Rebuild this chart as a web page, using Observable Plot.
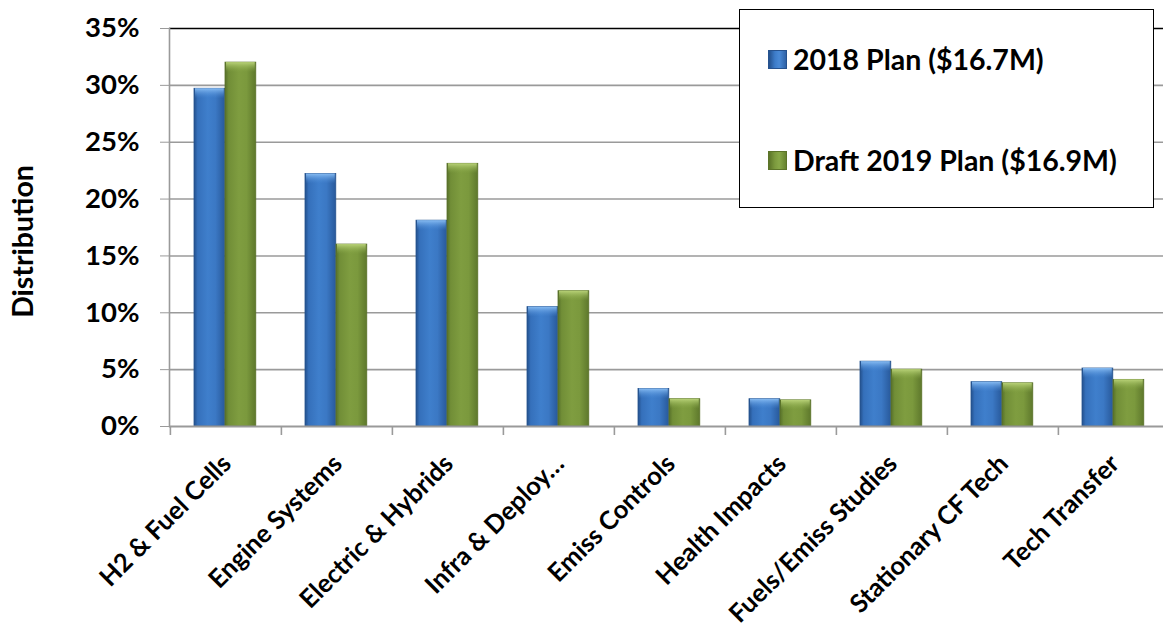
<!DOCTYPE html>
<html>
<head>
<meta charset="utf-8">
<script src="https://cdn.jsdelivr.net/npm/d3@7"></script>
<script src="https://cdn.jsdelivr.net/npm/@observablehq/plot@0.6"></script>
<style>
  html, body { margin: 0; padding: 0; background: #fff; }
  #wrap { position: relative; width: 1163px; height: 632px; overflow: hidden; font-family: Lato, "Open Sans", sans-serif; }
  #legend { position: absolute; left: 739px; top: 9px; width: 415px; height: 199px; box-sizing: border-box;
            border: 1.5px solid #000; background: #fff; }
  .item { position: absolute; left: 28px; display: flex; align-items: center; height: 22px;
          font-weight: bold; font-size: 28.5px; color: #000; white-space: nowrap; }
  .sw { display: inline-block; width: 19px; height: 19px; margin-right: 6px; box-sizing: border-box; }
  .sw.blue { background: linear-gradient(90deg, #23508c 0%, #3d7cc9 35%, #4a8ad6 60%, #2f62a6 100%); border: 1px solid #26528e; }
  .sw.green { background: linear-gradient(90deg, #5b7428 0%, #7c9a3e 35%, #88a848 60%, #66822f 100%); border: 1px solid #5c7429; }
</style>
</head>
<body>
<div id="wrap"></div>
<script>
// ---- data ----
const categories = ["H2 & Fuel Cells", "Engine Systems", "Electric & Hybrids", "Infra & Deploy…",
  "Emiss Controls", "Health Impacts", "Fuels/Emiss Studies", "Stationary CF Tech", "Tech Transfer"];
const plan2018 = [0.297, 0.222, 0.181, 0.105, 0.033, 0.024, 0.057, 0.039, 0.051];
const draft2019 = [0.320, 0.160, 0.231, 0.119, 0.024, 0.023, 0.050, 0.038, 0.041];
const seriesNames = ["2018 Plan ($16.7M)", "Draft 2019 Plan ($16.9M)"];
const yTicks = [0, 0.05, 0.10, 0.15, 0.20, 0.25, 0.30, 0.35];
const gridTicks = [0.05, 0.10, 0.15, 0.20, 0.25, 0.30];
const topTick = [0.35];
const yLabel = "Distribution";

const rows = categories.map((c, i) => ({category: c, a: plan2018[i], b: draft2019[i]}));

const band = (1170 - 169) / 9;
const barW = 31;
const offA = 24;

const chart = Plot.plot({
  width: 1163,
  height: 632,
  marginLeft: 169,
  marginRight: 0,
  marginTop: 28,
  marginBottom: 206,
  style: {fontFamily: "Lato, 'Open Sans', sans-serif", fontSize: "27px", fontWeight: "bold", background: "transparent", color: "#000"},
  x: {domain: categories, range: [169, 1170], padding: 0, label: null},
  y: {domain: [0, 0.35], label: null},
  marks: [
    Plot.ruleY(gridTicks, {stroke: "#9a9a9a", strokeWidth: 1.6}),
    Plot.ruleY(topTick, {stroke: "#000", strokeWidth: 1.6}),
    Plot.frame({anchor: "left", stroke: "#9a9a9a", strokeWidth: 1.6}),
    // bars
    Plot.barY(rows, {x: "category", y: "a", fill: "url(#gBlue)", stroke: "#27548f", strokeWidth: 0.8,
      insetLeft: offA, insetRight: band - offA - barW}),
    Plot.barY(rows, {x: "category", y: "b", fill: "url(#gGreen)", stroke: "#5a7228", strokeWidth: 0.8,
      insetLeft: offA + barW, insetRight: band - offA - 2 * barW}),
    // top bevel highlights
    Plot.barY(rows, {x: "category", y1: "a", y2: "a", insetTop: 0, insetBottom: -10, fill: "url(#gBlueTop)",
      insetLeft: offA + 1, insetRight: band - offA - barW + 1}),
    Plot.barY(rows, {x: "category", y1: "b", y2: "b", insetTop: 0, insetBottom: -10, fill: "url(#gGreenTop)",
      insetLeft: offA + barW + 1, insetRight: band - offA - 2 * barW + 1}),
    Plot.ruleY([0], {stroke: "#9a9a9a", strokeWidth: 2.2}),
    Plot.axisY({ticks: yTicks, tickFormat: d3.format(".0%"), tickSize: 9, tickPadding: 21, stroke: "#9a9a9a",
      fill: "#000", fontSize: 27.5, fontWeight: "bold", label: null}),
    // boundary ticks on x axis
    Plot.axisX({tickSize: 9, tickFormat: () => "", dx: -band / 2, stroke: "#9a9a9a", strokeWidth: 1.6, label: null}),
    // rotated category labels
    Plot.axisX({tickSize: 0, tickRotate: -45, tickPadding: 33, dx: 1, fontSize: 25.5, fontWeight: "bold",
      fill: "#000", label: null}),
    Plot.text([yLabel], {frameAnchor: "left", textAnchor: "middle", dx: -146, dy: 14, rotate: -90,
      fontSize: 28.5, fontWeight: "bold", fill: "#000"})
  ]
});

const defs = `
<linearGradient id="gBlue" x1="0" x2="1" y1="0" y2="0">
  <stop offset="0" stop-color="#23508c"/>
  <stop offset="0.12" stop-color="#3570bb"/>
  <stop offset="0.45" stop-color="#3f7fcc"/>
  <stop offset="0.7" stop-color="#3b78c4"/>
  <stop offset="1" stop-color="#28599b"/>
</linearGradient>
<linearGradient id="gGreen" x1="0" x2="1" y1="0" y2="0">
  <stop offset="0" stop-color="#56702a"/>
  <stop offset="0.12" stop-color="#718e37"/>
  <stop offset="0.45" stop-color="#7f9d40"/>
  <stop offset="0.7" stop-color="#7b993d"/>
  <stop offset="1" stop-color="#5e782c"/>
</linearGradient>
<linearGradient id="gBlueTop" x1="0" x2="0" y1="0" y2="1">
  <stop offset="0" stop-color="#8cc0f5" stop-opacity="0.95"/>
  <stop offset="1" stop-color="#4a8ad6" stop-opacity="0"/>
</linearGradient>
<linearGradient id="gGreenTop" x1="0" x2="0" y1="0" y2="1">
  <stop offset="0" stop-color="#bdd67c" stop-opacity="0.95"/>
  <stop offset="1" stop-color="#88a848" stop-opacity="0"/>
</linearGradient>`;
const d = document.createElementNS("http://www.w3.org/2000/svg", "defs");
d.innerHTML = defs;
chart.insertBefore(d, chart.firstChild);

const wrap = document.getElementById("wrap");
wrap.appendChild(chart);

const legend = document.createElement("div");
legend.id = "legend";
const cls = ["blue", "green"];
const tops = [38, 139];
seriesNames.forEach((name, i) => {
  const item = document.createElement("div");
  item.className = "item";
  item.style.top = tops[i] + "px";
  const sw = document.createElement("span");
  sw.className = "sw " + cls[i];
  item.appendChild(sw);
  item.appendChild(document.createTextNode(name));
  legend.appendChild(item);
});
wrap.appendChild(legend);
</script>
</body>
</html>
